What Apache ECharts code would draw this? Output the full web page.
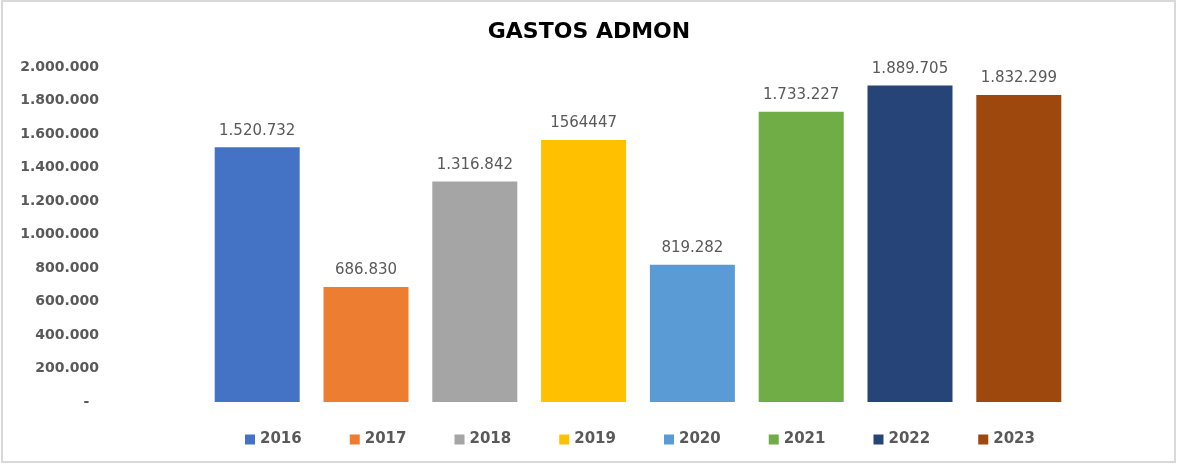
<!DOCTYPE html>
<html>
<head>
<meta charset="utf-8">
<script src="https://cdn.jsdelivr.net/npm/echarts@6/dist/echarts.min.js"></script>
<style>
    html, body { margin: 0; padding: 0; background: #fff; }
    #chart { width: 1178px; height: 465px; }
</style>
</head>
<body>
<div id="chart"></div>
<script>
// datos
const years = ['2016', '2017', '2018', '2019', '2020', '2021', '2022', '2023'];
const gastos = [1520732, 686830, 1316842, 1564447, 819282, 1733227, 1889705, 1832299];
const colors = ['#4472C4', '#ED7D31', '#A5A5A5', '#FFC000', '#5B9BD5', '#70AD47', '#264478', '#9E480E'];
// 2019 aparece sin separadores en el original
const rawLabelYears = ['2019'];

function puntos(v) {
    return String(v).replace(/\B(?=(\d{3})+(?!\d))/g, '.');
}

let myChart = echarts.init(document.getElementById('chart'));

myChart.setOption({
    animation: false,
    title: {
        text: 'GASTOS ADMON',
        left: 'center',
        top: 16,
        textStyle: {
            fontFamily: 'DejaVu Sans',
            fontWeight: 'bold',
            fontSize: 22,
            color: '#000',
        },
    },
    graphic: [
        {
            type: 'rect',
            shape: { x: 2, y: 1, width: 1173, height: 461 },
            style: { fill: 'none', stroke: '#d9d9d9', lineWidth: 2 },
            silent: true,
        },
    ],
    legend: {
        left: 240,
        top: 427,
        itemWidth: 10,
        itemHeight: 10,
        itemGap: 48,
        icon: 'rect',
        data: years,
        textStyle: {
            fontFamily: 'DejaVu Sans',
            fontWeight: 'bold',
            fontSize: 15,
            color: '#595959',
        },
    },
    grid: {
        left: 110,
        right: 12,
        top: 67,
        bottom: 63,
    },
    xAxis: {
        type: 'category',
        data: ['GASTOS ADMON'],
        axisLine: { show: false },
        axisTick: { show: false },
        axisLabel: { show: false },
    },
    yAxis: {
        type: 'value',
        min: 0,
        max: 2000000,
        interval: 200000,
        axisLine: { show: false },
        axisTick: { show: false },
        splitLine: { show: false },
        axisLabel: {
            margin: 11,
            fontFamily: 'DejaVu Sans',
            fontWeight: 'bold',
            fontSize: 14,
            color: '#595959',
            formatter: function (v) {
                return v === 0 ? '-  ' : puntos(v);
            },
        },
    },
    series: years.map(function (y, i) {
        return {
            name: y,
            type: 'bar',
            barWidth: 85,
            barGap: '28%',
            data: [gastos[i]],
            itemStyle: { color: colors[i] },
            label: {
                show: true,
                position: 'top',
                distance: 9,
                fontFamily: 'DejaVu Sans',
                fontSize: 15,
                color: '#595959',
                formatter: function (p) {
                    return rawLabelYears.indexOf(y) >= 0 ? String(p.value) : puntos(p.value);
                },
            },
        };
    }),
});
</script>
</body>
</html>
